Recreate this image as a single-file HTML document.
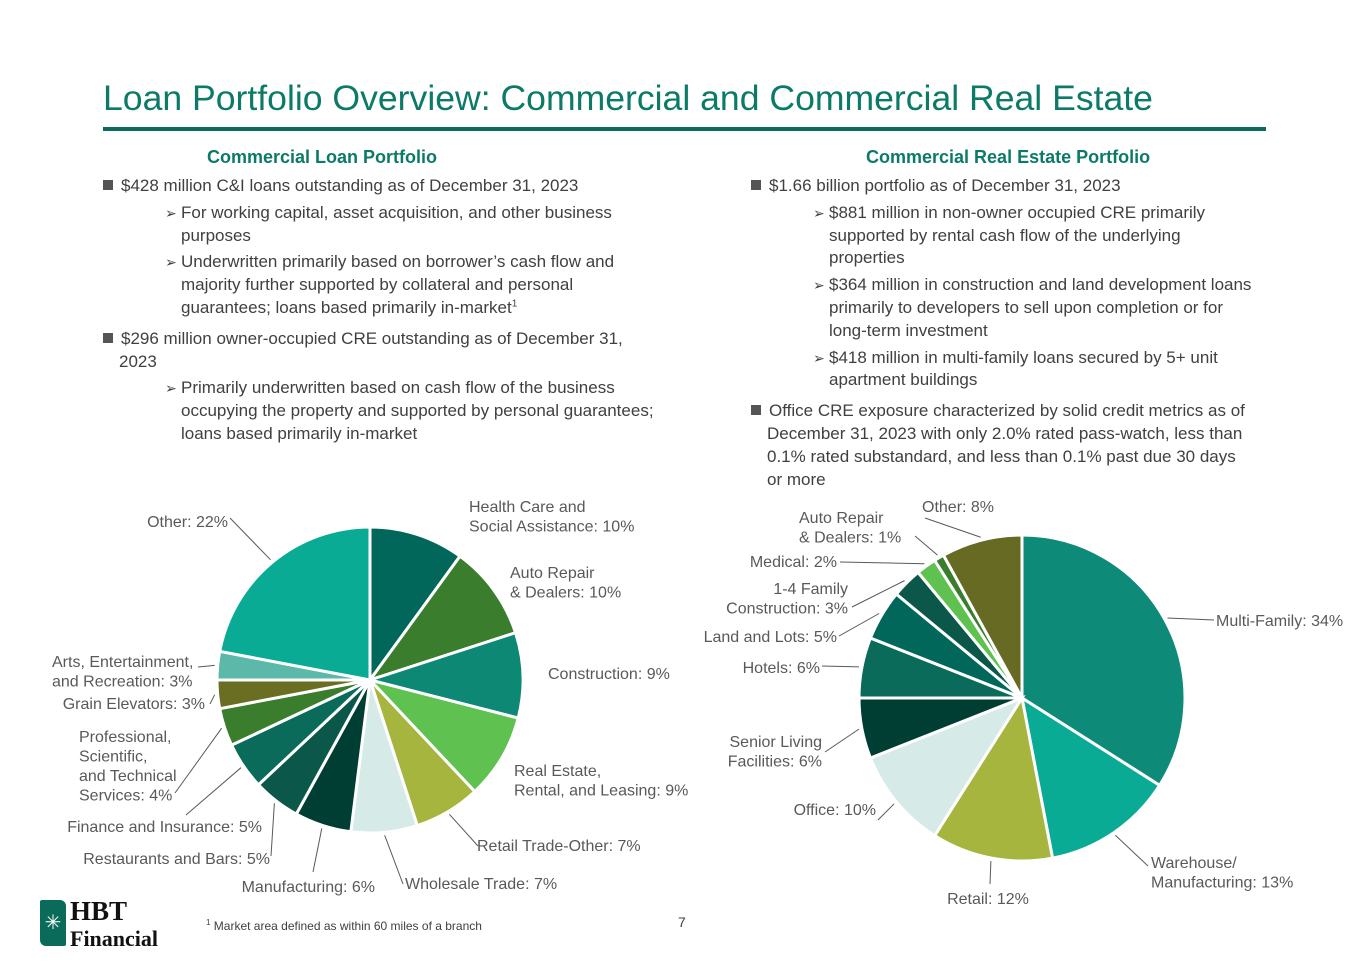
<!DOCTYPE html>
<html><head><meta charset="utf-8"><style>
body{margin:0;width:1365px;height:966px;background:#fff;font-family:"Liberation Sans",sans-serif;position:relative;overflow:hidden;color:#404040}
.t{position:absolute;left:103px;top:78px;font-size:35.6px;color:#0b7a66}
.rule{position:absolute;left:103px;top:127px;width:1163px;height:4px;background:#0a6b5a}
.h{position:absolute;font-weight:bold;font-size:18px;color:#0b7a66}
.tx{position:absolute;font-size:17px;line-height:22.8px}
.sq{display:inline-block;width:10px;height:10px;background:#555;margin-right:8px;vertical-align:1px}
.ar{font-size:14px;display:inline-block;width:16px;margin-left:-16px}
.sub{margin:4px 0 0 78px}
.top2{margin-top:8px}
</style></head><body>
<div class="t">Loan Portfolio Overview: Commercial and Commercial Real Estate</div>
<div class="rule"></div>
<div class="h" style="left:207px;top:147px">Commercial Loan Portfolio</div>
<div class="h" style="left:866px;top:147px">Commercial Real Estate Portfolio</div>
<div class="tx" style="left:103px;top:175px;width:600px">
<div><span class="sq"></span>$428 million C&amp;I loans outstanding as of December 31, 2023</div>
<div class="sub"><span class="ar">➢</span>For working capital, asset acquisition, and other business<br>purposes</div>
<div class="sub"><span class="ar">➢</span>Underwritten primarily based on borrower’s cash flow and<br>majority further supported by collateral and personal<br>guarantees; loans based primarily in-market<sup style="font-size:10px;line-height:0">1</sup></div>
<div class="top2"><span class="sq"></span>$296 million owner-occupied CRE outstanding as of December 31,<br><span style="padding-left:16px">2023</span></div>
<div class="sub"><span class="ar">➢</span>Primarily underwritten based on cash flow of the business<br>occupying the property and supported by personal guarantees;<br>loans based primarily in-market</div>
</div>
<div class="tx" style="left:751px;top:175px;width:560px">
<div><span class="sq"></span>$1.66 billion portfolio as of December 31, 2023</div>
<div class="sub"><span class="ar">➢</span>$881 million in non-owner occupied CRE primarily<br>supported by rental cash flow of the underlying<br>properties</div>
<div class="sub"><span class="ar">➢</span>$364 million in construction and land development loans<br>primarily to developers to sell upon completion or for<br>long-term investment</div>
<div class="sub"><span class="ar">➢</span>$418 million in multi-family loans secured by 5+ unit<br>apartment buildings</div>
<div class="top2"><span class="sq"></span>Office CRE exposure characterized by solid credit metrics as of<br><span style="padding-left:16px">December 31, 2023 with only 2.0% rated pass-watch, less than</span><br><span style="padding-left:16px">0.1% rated substandard, and less than 0.1% past due 30 days</span><br><span style="padding-left:16px">or more</span></div>
</div>
<svg id="c" width="1365" height="966" style="position:absolute;left:0;top:0" font-family="Liberation Sans, sans-serif" font-size="16"></svg>
<div style="position:absolute;left:40px;top:900px;width:26px;height:46px;background:#0a6b5a;border-radius:2px 6px 2px 6px;color:#fff;text-align:center;line-height:46px;font-size:20px">✳</div>
<div style="position:absolute;left:70px;top:898px;font-family:'Liberation Serif',serif;font-weight:bold;font-size:27px;color:#111;line-height:26px">HBT<br><span style="font-size:22px">Financial</span></div>
<div style="position:absolute;left:206px;top:918px;font-size:12px"><sup style="font-size:8px">1</sup> Market area defined as within 60 miles of a branch</div>
<div style="position:absolute;left:678px;top:914px;font-size:14px">7</div>
<script>
const leftCats=["Health Care and Social Assistance","Auto Repair & Dealers","Construction","Real Estate, Rental, and Leasing","Retail Trade-Other","Wholesale Trade","Manufacturing","Restaurants and Bars","Finance and Insurance","Professional, Scientific, and Technical Services","Grain Elevators","Arts, Entertainment, and Recreation","Other"];
const leftVals=[10,10,9,9,7,7,6,5,5,4,3,3,22];
const leftColors=["#00675a","#3a7d2c","#0d8874","#5fc150","#a6b53e","#d6ebe8","#003d33","#0b574a","#0a6b5a","#3a7d2c","#6a6e22","#5cb8a8","#0aab94"];
const rightCats=["Multi-Family","Warehouse/ Manufacturing","Retail","Office","Senior Living Facilities","Hotels","Land and Lots","1-4 Family Construction","Medical","Auto Repair & Dealers","Other"];
const rightVals=[34,13,12,10,6,6,5,3,2,1,8];
const rightColors=["#0e8a78","#0aab94","#a6b53e","#d6ebe8","#003d33","#0a6b5a","#00675a","#0b574a","#5fc150","#3a7d2c","#676a22"];
const leftLabels=[[["Health Care and","Social Assistance: 10%"],469,512,"start",null],[["Auto Repair","& Dealers: 10%"],510,578,"start",null],[["Construction: 9%"],548,679,"start",null],[["Real Estate,","Rental, and Leasing: 9%"],514,776,"start",null],[["Retail Trade-Other: 7%"],477,851,"start",[478,846]],[["Wholesale Trade: 7%"],405,889,"start",[403,884]],[["Manufacturing: 6%"],375,892,"end",[313,872]],[["Restaurants and Bars: 5%"],270,864,"end",[271,856]],[["Finance and Insurance: 5%"],262,832,"end",[186,815]],[["Professional,","Scientific,","and Technical","Services: 4%"],79,742,"start",[175,793]],[["Grain Elevators: 3%"],205,709,"end",[210,704]],[["Arts, Entertainment,","and Recreation: 3%"],52,667,"start",[198,667]],[["Other: 22%"],228,527,"end",[230,518]]];
const rightLabels=[[["Multi-Family: 34%"],1216,626,"start",[1214,620]],[["Warehouse/","Manufacturing: 13%"],1151,868,"start",[1148,866]],[["Retail: 12%"],988,904,"middle",[990,884]],[["Office: 10%"],876,815,"end",[878,820]],[["Senior Living","Facilities: 6%"],822,747,"end",[825,752]],[["Hotels: 6%"],820,673,"end",[822,666]],[["Land and Lots: 5%"],837,642,"end",[839,636]],[["1-4 Family","Construction: 3%"],848,594,"end",[852,607]],[["Medical: 2%"],837,567,"end",[840,562]],[["Auto Repair","& Dealers: 1%"],799,523,"start",[915,536]],[["Other: 8%"],922,512,"start",[925,518]]];
const svg=document.getElementById('c');const NS="http://www.w3.org/2000/svg";
function mk(t,a){const e=document.createElementNS(NS,t);for(const k in a)e.setAttribute(k,a[k]);svg.appendChild(e);return e;}
function pie(cx,cy,r,vals,cols,labels,cats,key){
 const tot=vals.reduce((a,b)=>a+b,0);let a0=0;
 vals.forEach((v,i)=>{
  const a1=a0+v/tot*2*Math.PI;
  const p=(a)=>[cx+r*Math.sin(a),cy-r*Math.cos(a)];
  const [x0,y0]=p(a0),[x1,y1]=p(a1);
  const s=mk('path',{d:`M${cx},${cy}L${x0},${y0}A${r},${r} 0 ${a1-a0>Math.PI?1:0} 1 ${x1},${y1}Z`,fill:cols[i],stroke:'#fff','stroke-width':3});
  
  
  const L=labels[i],am=(a0+a1)/2;
  if(L[4]){const l=mk('polyline',{points:`${cx+(r+3)*Math.sin(am)},${cy-(r+3)*Math.cos(am)} ${L[4][0]},${L[4][1]}`,stroke:'#595959',fill:'none','stroke-width':1});
   
   }
  const t=mk('text',{x:L[1],y:L[2],'text-anchor':L[3],fill:'#595959'});
  
  
  L[0].forEach((ln,j)=>{const ts=document.createElementNS(NS,'tspan');ts.setAttribute('x',L[1]);ts.setAttribute('y',L[2]+j*19.5);ts.textContent=ln;t.appendChild(ts);});
  a0=a1;});
}
pie(370,680,153,leftVals,leftColors,leftLabels,leftCats,'commercial');
pie(1022,698,163,rightVals,rightColors,rightLabels,rightCats,'cre');
</script>
</body></html>
